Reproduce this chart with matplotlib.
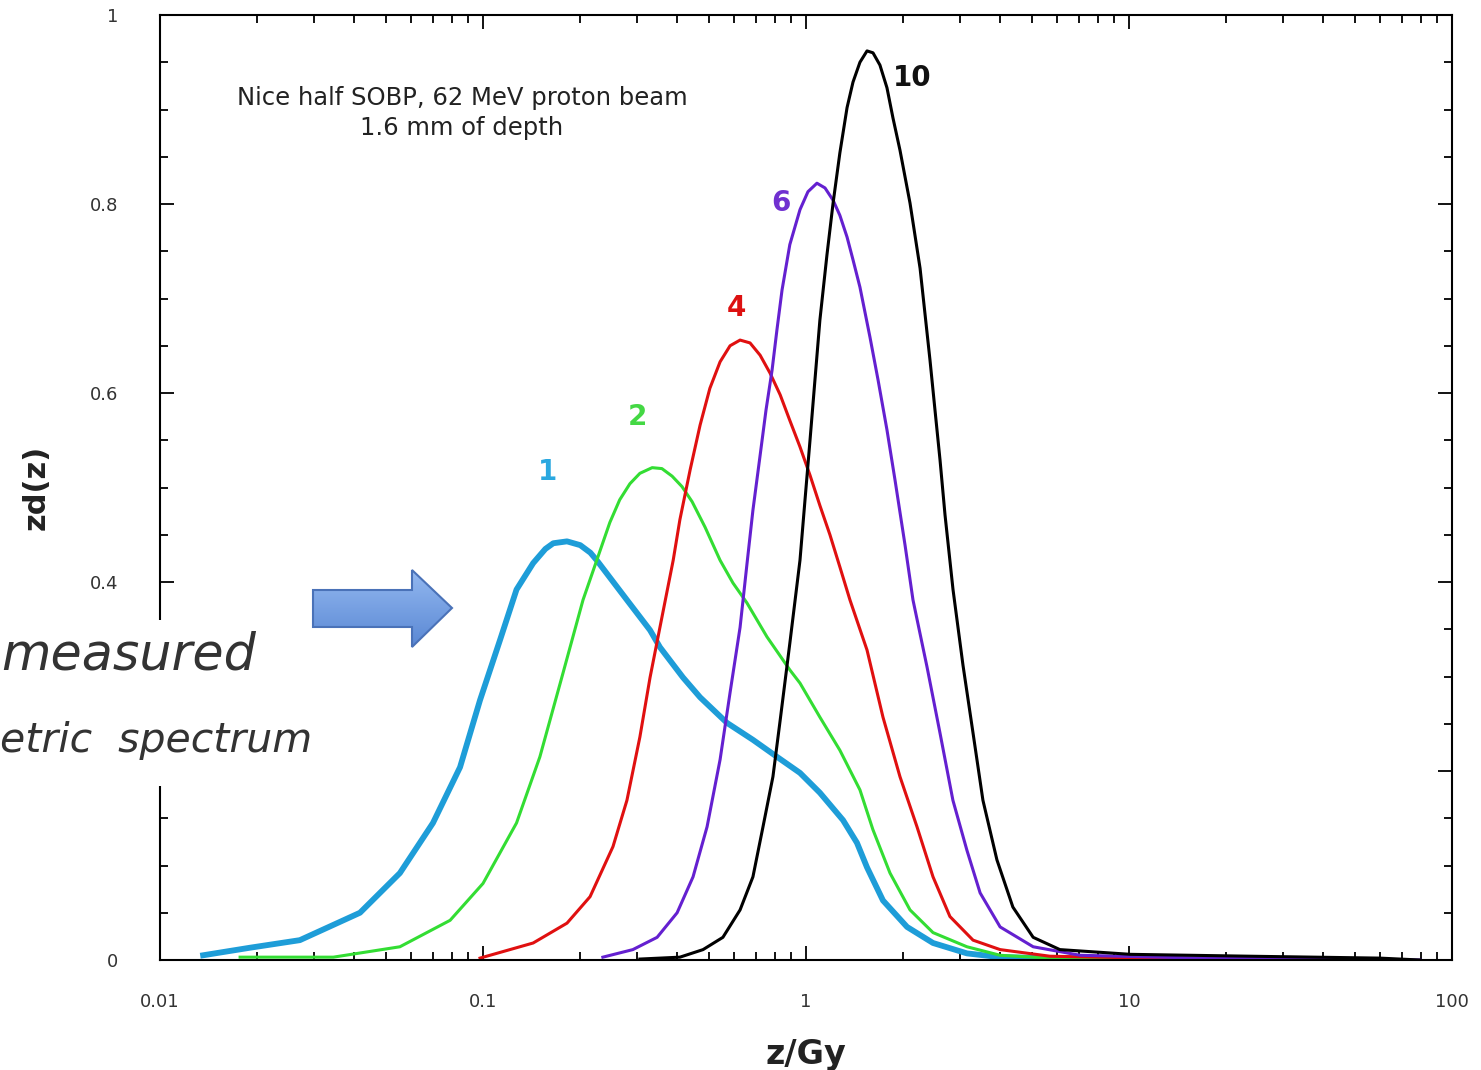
import numpy as np
import matplotlib
matplotlib.use("Agg")
import matplotlib.pyplot as plt
from matplotlib.patches import Polygon, Rectangle
from matplotlib.ticker import LogLocator, MultipleLocator, FuncFormatter, NullFormatter

# spectra: z in Gy, zd(z)
z_1 = [0.0136, 0.0190, 0.0271, 0.0416, 0.0553, 0.0700, 0.0849, 0.0979, 0.113, 0.127, 0.143,
       0.156, 0.165, 0.182, 0.200, 0.215, 0.225, 0.279, 0.329, 0.353, 0.416, 0.470, 0.569, 0.685,
       0.813, 0.958, 1.104, 1.302, 1.438, 1.545, 1.731, 2.055, 2.473, 3.15, 3.99, 8.13, 59.8]
zd_1 = [0.005, 0.013, 0.021, 0.050, 0.092, 0.145, 0.204, 0.275, 0.339, 0.392, 0.420,
        0.435, 0.441, 0.443, 0.439, 0.431, 0.423, 0.381, 0.349, 0.331, 0.299, 0.278, 0.251, 0.233,
        0.215, 0.198, 0.177, 0.148, 0.124, 0.098, 0.063, 0.035, 0.018, 0.007, 0.003, 0.001, 0.0]

z_2 = [0.0177, 0.0344, 0.0553, 0.0791, 0.100, 0.127, 0.150, 0.177, 0.204, 0.225, 0.247, 0.265,
       0.285, 0.306, 0.334, 0.358, 0.385, 0.413, 0.444, 0.487, 0.542, 0.594, 0.656, 0.757, 0.891,
       0.958, 1.104, 1.273, 1.469, 1.611, 1.820, 2.099, 2.473, 3.15, 3.99, 5.69, 33.8]
zd_2 = [0.003, 0.003, 0.014, 0.042, 0.081, 0.145, 0.215, 0.304, 0.381, 0.423, 0.463, 0.487,
        0.504, 0.515, 0.521, 0.520, 0.512, 0.501, 0.485, 0.458, 0.423, 0.399, 0.378, 0.342, 0.307,
        0.293, 0.257, 0.222, 0.180, 0.138, 0.092, 0.053, 0.029, 0.014, 0.005, 0.002, 0.0]

z_4 = [0.0979, 0.143, 0.182, 0.2145, 0.2526, 0.279, 0.306, 0.329, 0.353, 0.388, 0.407, 0.438,
       0.470, 0.504, 0.542, 0.582, 0.625, 0.671, 0.721, 0.774, 0.832, 0.891, 0.958, 1.029, 1.104,
       1.186, 1.273, 1.368, 1.545, 1.731, 1.954, 2.206, 2.473, 2.79, 3.29, 3.99, 5.69, 11.6, 69.0]
zd_4 = [0.002, 0.018, 0.039, 0.067, 0.120, 0.169, 0.236, 0.299, 0.352, 0.423, 0.466, 0.519,
        0.566, 0.605, 0.633, 0.650, 0.656, 0.653, 0.640, 0.621, 0.598, 0.571, 0.543, 0.513, 0.481,
        0.450, 0.416, 0.381, 0.328, 0.257, 0.194, 0.141, 0.088, 0.046, 0.021, 0.011, 0.004, 0.002, 0.0]

z_6 = [0.235, 0.291, 0.346, 0.399, 0.447, 0.494, 0.542, 0.582, 0.625, 0.656, 0.685, 0.721,
       0.752, 0.785, 0.813, 0.843, 0.891, 0.958, 1.014, 1.081, 1.145, 1.213, 1.273, 1.340, 1.398,
       1.469, 1.578, 1.671, 1.781, 1.886, 2.026, 2.144, 2.37, 2.60, 2.85, 3.15, 3.46, 3.99, 5.05,
       7.05, 16.6, 79.6]
zd_6 = [0.003, 0.011, 0.024, 0.050, 0.088, 0.141, 0.212, 0.283, 0.352, 0.418, 0.476, 0.534,
        0.582, 0.624, 0.667, 0.709, 0.757, 0.794, 0.813, 0.822, 0.817, 0.804, 0.788, 0.765, 0.741,
        0.712, 0.659, 0.614, 0.561, 0.508, 0.439, 0.381, 0.310, 0.240, 0.169, 0.116, 0.071, 0.035,
        0.014, 0.005, 0.002, 0.0]

z_10 = [0.306, 0.407, 0.480, 0.553, 0.625, 0.685, 0.736, 0.790, 0.832, 0.891,
        0.958, 0.993, 1.029, 1.066, 1.104, 1.161, 1.213, 1.273, 1.340, 1.398,
        1.469, 1.545, 1.612, 1.694, 1.781, 1.859, 1.954, 2.099, 2.255, 2.420,
        2.508, 2.60, 2.694, 2.852, 3.062, 3.29, 3.53, 3.90, 4.37, 5.05,
        6.11, 10.1, 23.7, 59.8, 79.6]
zd_10 = [0.001, 0.003, 0.011, 0.024, 0.053, 0.088, 0.141, 0.194, 0.254, 0.335,
         0.423, 0.487, 0.550, 0.614, 0.677, 0.746, 0.801, 0.854, 0.902, 0.929,
         0.950, 0.962, 0.960, 0.947, 0.923, 0.891, 0.857, 0.801, 0.732, 0.635,
         0.582, 0.529, 0.471, 0.392, 0.312, 0.240, 0.169, 0.106, 0.056, 0.024,
         0.011, 0.006, 0.004, 0.002, 0.0]

# label text, where it sits (z, zd), line colour, width, label colour
series = [
    (z_1, zd_1, "#1e9dd8", 4.2, "1", (0.158, 0.516), "#2aa8e0"),
    (z_2, zd_2, "#33dd33", 2.2, "2", (0.300, 0.575), "#44d844"),
    (z_4, zd_4, "#e01010", 2.2, "4", (0.607, 0.690), "#dd1111"),
    (z_6, zd_6, "#6420d0", 2.2, "6", (0.837, 0.801), "#7030d0"),
    (z_10, zd_10, "#000000", 2.2, "10", (2.13, 0.933), "#111111"),
]

W, H = 1481, 1070
fig = plt.figure(figsize=(W / 100, H / 100), dpi=100)
ax = fig.add_axes([160 / W, 1 - 960 / H, (1452 - 160) / W, (960 - 15) / H])

for z, zd, col, lw, lab, pos, lcol in series:
    ax.plot(z, zd, color=col, lw=lw, solid_joinstyle="round")
    ax.text(pos[0], pos[1], lab, color=lcol, fontsize=20, fontweight="bold",
            ha="center", va="center")

ax.set_xscale("log")
ax.set_xlim(0.01, 100)
ax.set_ylim(0, 1)

ax.xaxis.set_major_locator(LogLocator(base=10, numticks=10))
ax.xaxis.set_minor_locator(LogLocator(base=10, subs=np.arange(2, 10), numticks=20))
ax.xaxis.set_minor_formatter(NullFormatter())
ax.xaxis.set_major_formatter(FuncFormatter(lambda v, p: "%g" % v))
ax.yaxis.set_major_locator(MultipleLocator(0.2))
ax.yaxis.set_minor_locator(MultipleLocator(0.05))
ax.yaxis.set_major_formatter(FuncFormatter(lambda v, p: "%g" % round(v, 2)))

ax.tick_params(which="both", direction="in", top=True, right=True, width=1.3,
               labelsize=13, labelcolor="#333333")
ax.tick_params(which="major", length=10)
ax.tick_params(axis="x", which="major", pad=24)
ax.tick_params(axis="y", which="major", pad=30)
ax.tick_params(which="minor", length=6)
for s in ax.spines.values():
    s.set_linewidth(1.5)

ax.set_xlabel("z/Gy", fontsize=24, fontweight="bold", color="#222222", labelpad=19)
ax.set_ylabel("zd(z)", fontsize=22, fontweight="bold", color="#222222")
ax.yaxis.set_label_coords(-0.085, 0.5)

ax.text(0.2337, 0.896, "Nice half SOBP, 62 MeV proton beam\n1.6 mm of depth",
        transform=ax.transAxes, ha="center", va="center", fontsize=17.5,
        color="#222222", linespacing=1.3)

# overlay in figure pixels: white patch, hand note and arrow
ov = fig.add_axes([0, 0, 1, 1], zorder=5)
ov.axis("off")
ov.patch.set_alpha(0)

ov.add_patch(Rectangle((0, 620), 312, 166, facecolor="white", edgecolor="none"))
ov.text(1, 655, "measured", fontsize=36.5, style="italic", color="#333333",
        family="DejaVu Sans", va="center", ha="left")
ov.text(0, 740, "etric  spectrum", fontsize=29.5, style="italic", color="#333333",
        family="DejaVu Sans", va="center", ha="left")

arrow_pts = [(313, 590), (412, 590), (412, 570), (452, 608), (412, 647), (412, 627), (313, 627)]
arrow = Polygon(arrow_pts, closed=True, facecolor="none", edgecolor="#4a72b8", lw=1.5, zorder=6)
ov.add_patch(arrow)
grad = np.linspace(0, 1, 100).reshape(-1, 1)
cmap = matplotlib.colors.LinearSegmentedColormap.from_list("arr", ["#93b8f0", "#5a88d4"])
im = ov.imshow(grad, cmap=cmap, extent=[313, 452, 647, 570], aspect="auto", zorder=5)
im.set_clip_path(arrow)
ov.set_xlim(0, W)
ov.set_ylim(H, 0)

fig.savefig("out.png", dpi=100)
